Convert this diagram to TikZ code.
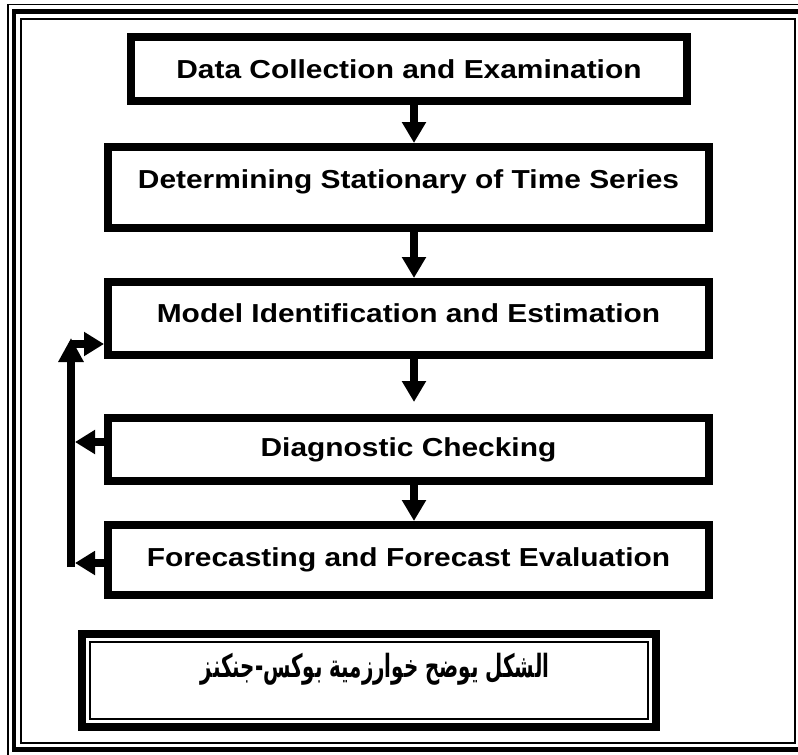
\documentclass[tikz,border=0pt]{standalone}
\usepackage{fontspec}
\setmainfont{Liberation Sans}[FakeStretch=1.15]
\newfontfamily\arabicfont[Script=Arabic, FakeStretch=0.62]{DejaVu Sans}
\TeXXeTstate=1
\usetikzlibrary{arrows.meta}

\begin{document}
\begin{tikzpicture}[x=1pt, y=-1pt,
  every node/.style={font=\bfseries\fontsize{26}{30}\selectfont},
  stage/.style={draw, line width=8pt, minimum width=601pt, inner sep=0pt},
  flow/.style={-{Triangle[width=23pt, length=21pt]}, line width=8pt},
  back/.style={-{Triangle[width=23pt, length=20pt]}, line width=8pt},
  capframe/.style={draw, line width=8pt, minimum width=574pt, minimum height=93pt, inner sep=0pt},
  capline/.style={draw, line width=2pt, minimum width=558pt, minimum height=77pt, inner sep=0pt,
    text height=15pt, text depth=22pt, font=\arabicfont\bfseries\fontsize{32}{36}\selectfont}]
  \useasboundingbox (0,0) rectangle (798,755);
  % page frame
  \draw[line width=1.5pt] (8,4.5) rectangle (808,756);
  \draw[line width=4.5pt] (14,11.5) rectangle (802,749.5);
  \draw[line width=2pt] (21,18.5) rectangle (795,742.5);
  % stages
  \node[stage, minimum width=556pt, minimum height=64pt] (dc) at (409,69) {Data Collection and Examination};
  \node[stage, minimum height=81pt, text depth=16pt] (st) at (408.5,187.5) {Determining Stationary of Time Series};
  \node[stage, minimum height=73pt, text depth=11pt] (id) at (408.5,318.5) {Model Identification and Estimation};
  \node[stage, minimum height=63pt] (dg) at (408.5,449.5) {Diagnostic Checking};
  \node[stage, minimum height=70pt] (fc) at (408.5,560) {Forecasting and Forecast Evaluation};
  \draw[flow] ([xshift=5pt]dc.south) -- ([xshift=5.5pt]st.north);
  \draw[flow] ([xshift=5.5pt]st.south) -- ([xshift=5.5pt]id.north);
  \draw[flow, shorten >=12pt] ([xshift=5.5pt]id.south) -- ([xshift=5.5pt]dg.north);
  \draw[flow] ([xshift=5.5pt]dg.south) -- ([xshift=5.5pt]fc.north);
  % feedback loop
  \coordinate (up) at (71,338);
  \coordinate (bend) at (71,344);
  \coordinate (low) at (71,567);
  \coordinate (j4) at (75,442);
  \coordinate (j5) at (75,563);
  \draw[line width=8pt, -{Triangle[width=24pt, length=24pt]}] (low) -- (up);
  \draw[back] (bend) -- (bend -| id.west);
  \draw[back] (dg.west |- j4) -- (j4);
  \draw[back] (fc.west |- j5) -- (j5);
  % caption
  \node[capframe] (cap) at (369,680.5) {};
  \node[capline] (captext) at (cap.center)
    {\hspace*{12pt}\beginR الشكل يوضح خوارزمية بوكس-جنكنز\endR};
\end{tikzpicture}
\end{document}
